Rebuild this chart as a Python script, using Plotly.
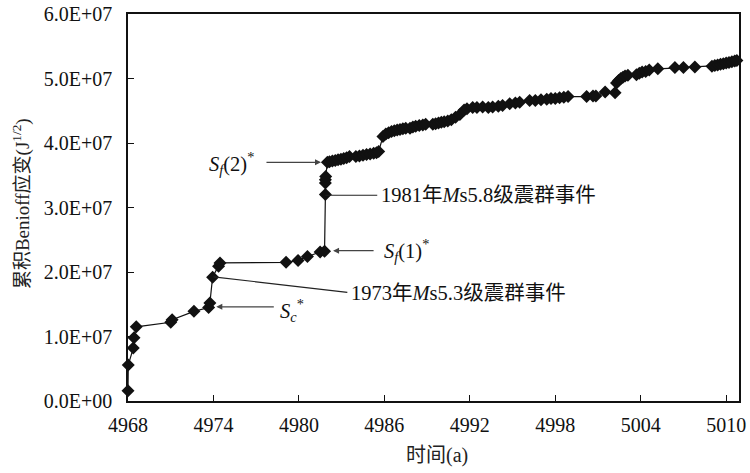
import plotly.graph_objects as go

# ---- data ----
years = [
    4968.00, 4968.02, 4968.37, 4968.42, 4968.58,
    4971.00, 4971.10, 4972.63, 4973.66, 4973.75, 4973.94,
    4974.36, 4974.46, 4979.10, 4979.94, 4980.60, 4981.49, 4981.80,
    4981.86, 4981.86, 4981.86, 4981.88,
    4982.00, 4982.15, 4982.35, 4982.55, 4982.75, 4982.95, 4983.15, 4983.35, 4983.55,
    4984.00, 4984.25, 4984.50, 4984.75, 4985.00, 4985.25, 4985.45, 4985.60,
    4985.90, 4986.10, 4986.30, 4986.50, 4986.70, 4986.90, 4987.10, 4987.30, 4987.50,
    4987.80, 4988.00, 4988.20, 4988.45, 4988.70, 4988.90,
    4989.40, 4989.60, 4989.80, 4990.00, 4990.20, 4990.45, 4990.70, 4991.00,
    4991.30, 4991.60, 4991.80, 4992.20, 4992.50, 4992.90, 4993.30, 4993.60, 4994.00,
    4994.30, 4994.80, 4995.20, 4995.50, 4996.20, 4996.60, 4997.00, 4997.40, 4997.70,
    4998.00, 4998.30, 4998.60, 4998.90,
    5000.20, 5000.65, 5000.85, 5001.50, 5002.20,
    5002.30, 5002.45, 5002.60, 5002.75, 5002.90, 5003.10,
    5003.70, 5003.90, 5004.10, 5004.35, 5004.60, 5005.20,
    5006.40, 5007.00, 5007.80,
    5009.00, 5009.20, 5009.40, 5009.60, 5009.80, 5010.00, 5010.20, 5010.40, 5010.60, 5010.75,
]
strain_e7 = [
    0.16, 0.56, 0.82, 0.98, 1.15,
    1.22, 1.26, 1.39, 1.45, 1.52, 1.92,
    2.09, 2.14, 2.15, 2.18, 2.24, 2.31, 2.32,
    3.20, 3.38, 3.43, 3.48,
    3.70, 3.71, 3.72, 3.73, 3.74, 3.75, 3.76, 3.77, 3.79,
    3.79, 3.80, 3.81, 3.82, 3.83, 3.84, 3.85, 3.87,
    4.10, 4.14, 4.16, 4.18, 4.19, 4.20, 4.21, 4.22, 4.23,
    4.23, 4.25, 4.26, 4.27, 4.28, 4.29,
    4.29, 4.30, 4.31, 4.32, 4.33, 4.34, 4.36, 4.40,
    4.44, 4.51, 4.53, 4.55, 4.55, 4.56, 4.55, 4.56, 4.57,
    4.58, 4.61, 4.62, 4.63, 4.66, 4.66, 4.67, 4.68, 4.69,
    4.69, 4.70, 4.71, 4.72,
    4.72, 4.73, 4.73, 4.79, 4.78,
    4.93, 4.97, 5.00, 5.02, 5.04, 5.05,
    5.06, 5.08, 5.10, 5.11, 5.13, 5.15,
    5.17, 5.17, 5.18,
    5.19, 5.20, 5.21, 5.22, 5.23, 5.24, 5.25, 5.26, 5.27, 5.28,
]
strain = [v * 1e7 for v in strain_e7]

x_ticks = [4968, 4974, 4980, 4986, 4992, 4998, 5004, 5010]
y_ticks = [0, 1e7, 2e7, 3e7, 4e7, 5e7, 6e7]
y_ticktext = ["0.0E+00", "1.0E+07", "2.0E+07", "3.0E+07", "4.0E+07", "5.0E+07", "6.0E+07"]

FONT = "Liberation Serif, Times New Roman, Noto Sans CJK SC, serif"
CJK = "Liberation Serif, Noto Sans CJK SC, serif"

fig = go.Figure()
fig.add_trace(go.Scatter(
    x=years, y=strain, mode="lines+markers",
    line=dict(color="#111111", width=1.2),
    marker=dict(symbol="diamond", size=10, color="#111111"),
    cliponaxis=False, showlegend=False,
))

ann = []
arrow_style = dict(showarrow=True, arrowhead=2, arrowsize=1, arrowwidth=1.2,
                   arrowcolor="#444444", text="", xref="x", yref="y", axref="pixel", ayref="pixel")
ann.append(dict(x=4981.55, y=3.70e7, ax=-56, ay=0, **arrow_style))   # Sf(2)*
ann.append(dict(x=4982.40, y=2.33e7, ax=42, ay=0, **arrow_style))    # Sf(1)*
ann.append(dict(x=4974.20, y=1.46e7, ax=59, ay=0, **arrow_style))    # Sc*

txt = dict(showarrow=False, xref="x", yref="y", font=dict(family=CJK, size=20.5, color="#111111"))
ann.append(dict(x=4975.25, y=3.69e7, text="<i>S</i><sub><i>f</i></sub>(2)<sup>*</sup>", xanchor="center", **txt))
ann.append(dict(x=4985.60, y=3.19e7, text="1981年<i>M</i>s5.8级震群事件", xanchor="left", **txt))
ann.append(dict(x=4985.80, y=2.33e7, text="<i>S</i><sub><i>f</i></sub>(1)<sup>*</sup>", xanchor="left", **txt))
ann.append(dict(x=4983.55, y=1.68e7, text="1973年<i>M</i>s5.3级震群事件", xanchor="left", **txt))
ann.append(dict(x=4978.55, y=1.40e7, text="<i>S</i><sub><i>c</i></sub><sup>*</sup>", xanchor="left", **txt))

# axis titles (paper coords relative to plot area)
ann.append(dict(x=-0.175, y=0.509, xref="paper", yref="paper", xanchor="center", yanchor="middle",
                showarrow=False, textangle=-90,
                text="累积Benioff应变(J<sup>1/2</sup>)", font=dict(family=CJK, size=19, color="#222222")))
ann.append(dict(x=0.506, y=-0.14, xref="paper", yref="paper", xanchor="center", yanchor="middle",
                showarrow=False,
                text="时间(a)", font=dict(family=CJK, size=20, color="#222222")))

shapes = [
    dict(type="line", xref="x", yref="y", x0=4981.86, y0=3.19e7, x1=4985.5, y1=3.19e7,
         line=dict(color="#222222", width=1.2)),
    dict(type="line", xref="x", yref="y", x0=4974.0, y0=1.925e7, x1=4983.4, y1=1.685e7,
         line=dict(color="#222222", width=1.2)),
]

fig.update_layout(
    width=750, height=473,
    margin=dict(l=128, r=11, t=14, b=72, autoexpand=False),
    paper_bgcolor="white", plot_bgcolor="white",
    font=dict(family=FONT, size=20, color="#111111"),
    annotations=ann, shapes=shapes,
    xaxis=dict(range=[4968, 5010.9], tickvals=x_ticks, ticks="inside", ticklen=6,
               tickcolor="#111111", showline=True, linecolor="#111111", linewidth=1.6,
               mirror=True, showgrid=False, zeroline=False, automargin=False, ticklabelstandoff=5,
               tickfont=dict(family=FONT, size=20)),
    yaxis=dict(range=[0, 6e7], tickvals=y_ticks, ticktext=y_ticktext, ticks="inside", ticklen=6,
               tickcolor="#111111", showline=True, linecolor="#111111", linewidth=1.6,
               mirror=True, showgrid=False, zeroline=False, automargin=False, ticklabelstandoff=10,
               tickfont=dict(family=FONT, size=20)),
)

fig.write_html("out.html")
